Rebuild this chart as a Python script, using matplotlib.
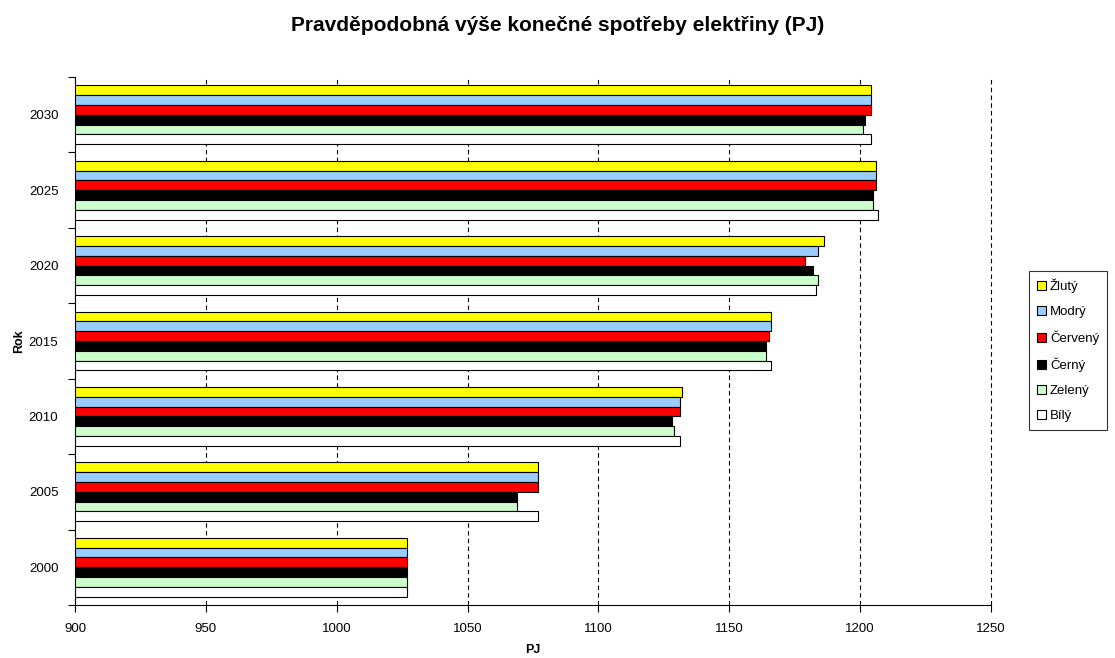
import matplotlib.pyplot as plt
import numpy as np

plt.rcParams['font.family'] = ['Liberation Sans', 'DejaVu Sans']

# data
years = ['2000', '2005', '2010', '2015', '2020', '2025', '2030']
scenarios = ['Žlutý', 'Modrý', 'Červený', 'Černý', 'Zelený', 'Bílý']
colors = ['#ffff00', '#99ccff', '#ff0000', '#000000', '#ccffcc', '#ffffff']

zluty = [1027, 1077, 1132, 1166, 1186, 1206, 1204]
modry = [1027, 1077, 1131, 1166, 1184, 1206, 1204]
cerveny = [1027, 1077, 1131, 1165, 1179, 1206, 1204]
cerny = [1027, 1069, 1128, 1164, 1182, 1205, 1202]
zeleny = [1027, 1069, 1129, 1164, 1184, 1205, 1201]
bily = [1027, 1077, 1131, 1166, 1183, 1207, 1204]
series = [zluty, modry, cerveny, cerny, zeleny, bily]

fig = plt.figure(figsize=(11.15, 6.58), dpi=100)
ax = fig.add_axes([75 / 1115, 53 / 658, 916 / 1115, 528 / 658])

y = np.arange(len(years))
bh = 0.13
for k, (name, vals, c) in enumerate(zip(scenarios, series, colors)):
    # yellow on top within each group
    offs = (2.5 - k) * bh
    ax.barh(y + offs, np.array(vals) - 900, left=900, height=bh, color=c,
            edgecolor='black', linewidth=0.8, label=name, zorder=3)

ax.set_xlim(900, 1250)
ax.set_ylim(-0.5, len(years) - 0.5)
ticks = np.arange(900, 1251, 50)
ax.set_xticks(ticks)
ax.tick_params(axis='x', labelsize=9.5, direction='out', length=5, pad=8)
# dashed gridlines, the one at 1250 too
for t in ticks[1:]:
    ax.axvline(t, linestyle=(0, (4, 3)), color='black', linewidth=0.8,
               zorder=0, clip_on=False)

# boundaries as major ticks, labels on minor ticks at centres
ax.set_yticks(np.arange(-0.5, len(years), 1))
ax.set_yticklabels([])
ax.set_yticks(y, minor=True)
ax.set_yticklabels(years, minor=True)
ax.tick_params(axis='y', which='major', length=5, direction='out')
ax.tick_params(axis='y', which='minor', length=0, labelsize=9.5, pad=12)

for s in ['top', 'right']:
    ax.spines[s].set_visible(False)

ax.set_xlabel('PJ', fontsize=9, fontweight='bold')
ax.xaxis.set_label_coords((533 - 75) / 916, -39 / 528)
ax.set_ylabel('Rok', fontsize=9, fontweight='bold')
ax.yaxis.set_label_coords(-50 / 916, 0.5)
fig.suptitle('Pravděpodobná výše konečné spotřeby elektřiny (PJ)', fontsize=15,
             fontweight='bold', y=1 - 16 / 658, va='top')

leg = fig.legend(loc='upper left', bbox_to_anchor=(1029 / 1115, 1 - 271 / 658),
                 fontsize=9.5, frameon=True, fancybox=False, edgecolor='black',
                 handlelength=0.7, handleheight=0.7, handletextpad=0.3,
                 labelspacing=0.95, borderpad=0.6, borderaxespad=0)
leg.get_frame().set_linewidth(0.8)

fig.savefig('out.png', dpi=100)
